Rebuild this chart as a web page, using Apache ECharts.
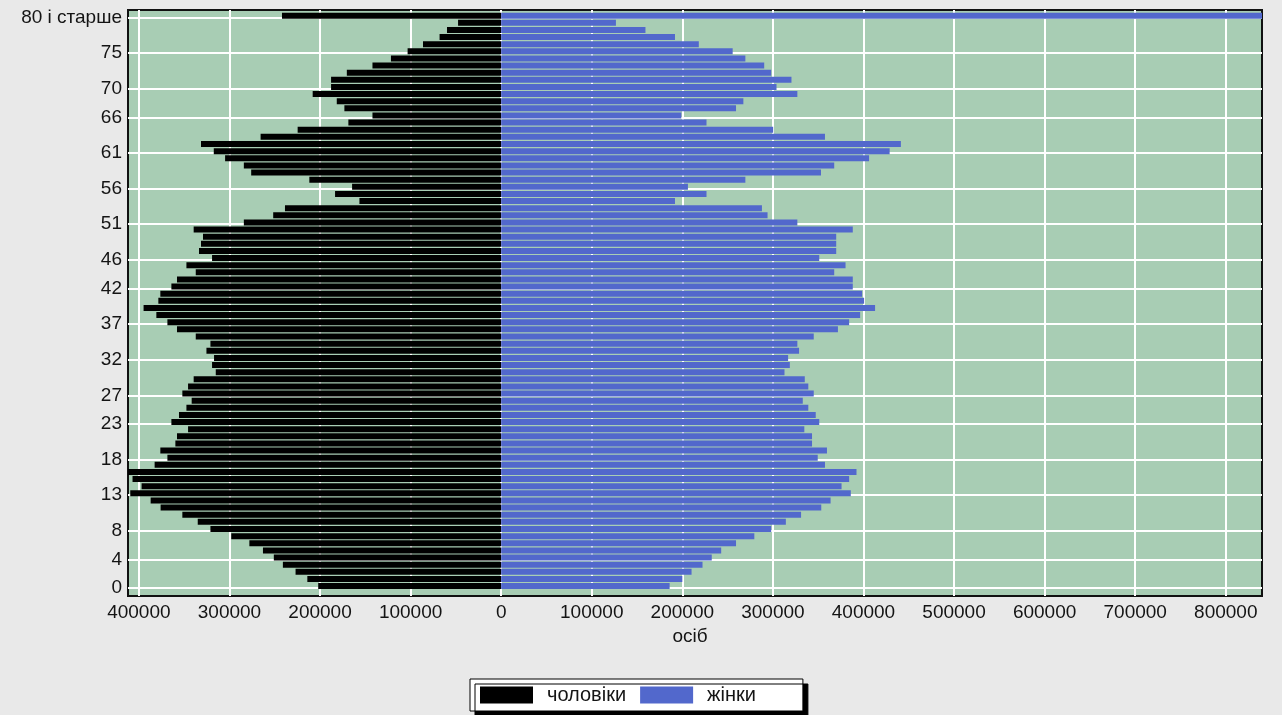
<!DOCTYPE html>
<html>
<head>
<meta charset="utf-8">
<script src="https://cdn.jsdelivr.net/npm/echarts@6/dist/echarts.min.js"></script>
<style>
html,body{margin:0;padding:0;background:#e9e9e9;}
#chart{width:1282px;height:715px;}
</style>
</head>
<body>
<div id="chart"></div>
<script>
// Age groups (bottom to top)
const ages = ['0','1','2','3','4','5','6','7','8','9',
  '10','11','12','13','14','15','16','17','18','19',
  '20','21','22','23','24','25','26','27','28','29',
  '30','31','32','33','34','35','36','37','38','39',
  '40','41','42','43','44','45','46','47','48','49',
  '50','51','52','53','54','55','56','57','58','59',
  '60','61','62','63','64','65','66','67','68','69',
  '70','71','72','73','74','75','76','77','78','79',
  '80 і старше'];

// Men (чоловіки), persons, by age
const men = [202000,214000,227000,241000,251000,263000,278000,298000,321000,335000,
  352000,376000,387000,409500,397000,407000,412500,382600,368500,376300,
  359700,357900,345700,364100,355700,347500,341700,352000,345700,339500,
  315100,319200,317000,325400,321000,337200,357900,368500,380700,394800,
  378500,376300,364100,357900,337200,347500,319200,333600,331400,329200,
  339500,284100,251700,238700,156500,183400,164600,211800,276000,284100,
  304800,317300,331400,265600,224700,168700,142100,173100,181500,208100,
  187800,187800,170400,142100,121700,103300,86300,68000,59800,47600,
  242000];

// Women (жінки), persons, by age
const women = [186000,200000,210200,222300,232500,242900,259300,279500,298100,314300,
  331100,353400,363700,386000,375800,384200,392300,357500,349500,359700,
  343200,343200,334700,351200,347300,339100,333000,345100,339100,335200,
  312800,318700,316800,328900,327000,345100,371800,384200,396300,412800,
  400700,398500,388200,388200,367700,380200,351200,369900,369900,369900,
  388200,327000,294100,287900,191900,226700,206200,269600,353100,367700,
  406200,428900,441300,357500,300300,226700,198900,259300,267400,327000,
  304000,320500,298100,290400,269600,255600,218200,191900,159300,126700,
  900000];

// Labelled ages on the vertical axis
const yTickAges = [0,4,8,13,18,23,27,32,37,42,46,51,56,61,66,70,75,80];
// Tick values on the horizontal axis
const xTickValues = [-400000,-300000,-200000,-100000,0,100000,200000,300000,400000,500000,600000,700000,800000];
const seriesNames = ['чоловіки','жінки'];
const xAxisName = 'осіб';

const font = '"Liberation Sans", Arial, sans-serif';
const textColor = '#141414';
const yTickPos = yTickAges.map(a => a - 0.25);

const chart = echarts.init(document.getElementById('chart'), null, {renderer: 'canvas'});
const option = {
  backgroundColor: '#e9e9e9',
  animation: false,
  textStyle: {fontFamily: font},
  grid: [
    {left: 128, right: 20, top: 10, bottom: 119, show: true,
     backgroundColor: '#a8cdb4', borderColor: '#111', borderWidth: 2},
    {left: 128, right: 20, top: 12.1, bottom: 125.4}
  ],
  xAxis: [
    {
      gridIndex: 0, type: 'value', min: -412000, max: 840000,
      axisLine: {show: false},
      axisTick: {show: false, customValues: xTickValues},
      axisLabel: {customValues: xTickValues, formatter: v => String(Math.abs(v)),
        color: textColor, fontSize: 19, margin: 7, fontFamily: font},
      splitLine: {show: true, lineStyle: {color: '#ffffff', width: 2}},
      name: xAxisName, nameLocation: 'middle', nameGap: 28,
      nameTextStyle: {fontSize: 19, color: textColor, fontFamily: font, padding: [0, 10, 0, 0]}
    },
    {gridIndex: 1, type: 'value', min: -412000, max: 840000, show: false}
  ],
  yAxis: [
    {
      gridIndex: 0, type: 'value', min: -1.4, max: 80.8,
      axisLine: {show: false},
      axisTick: {show: false, customValues: yTickPos},
      axisLabel: {customValues: yTickPos, formatter: v => ages[Math.round(v)],
        color: textColor, fontSize: 19, margin: 6, fontFamily: font},
      splitLine: {show: true, lineStyle: {color: '#ffffff', width: 2}}
    },
    {gridIndex: 1, type: 'category', data: ages, show: false}
  ],
  legend: {
    left: 470, top: 679,
    data: seriesNames,
    itemWidth: 53, itemHeight: 17, itemGap: 14,
    padding: [6, 47, 6, 10],
    backgroundColor: '#ffffff', borderColor: '#000', borderWidth: 1,
    shadowColor: '#000', shadowOffsetX: 5, shadowOffsetY: 5, shadowBlur: 0,
    icon: 'rect',
    textStyle: {fontSize: 20, color: textColor, fontFamily: font, padding: [0, 0, 0, 9]}
  },
  series: [
    {name: seriesNames[0], type: 'bar', xAxisIndex: 1, yAxisIndex: 1,
     data: men.map(v => -v), barWidth: 6, barGap: '-100%',
     itemStyle: {color: '#000000'}},
    {name: seriesNames[1], type: 'bar', xAxisIndex: 1, yAxisIndex: 1,
     data: women, barWidth: 6, barGap: '-100%', clip: true,
     itemStyle: {color: '#5268cc'}}
  ]
};
chart.setOption(option);
</script>
</body>
</html>
